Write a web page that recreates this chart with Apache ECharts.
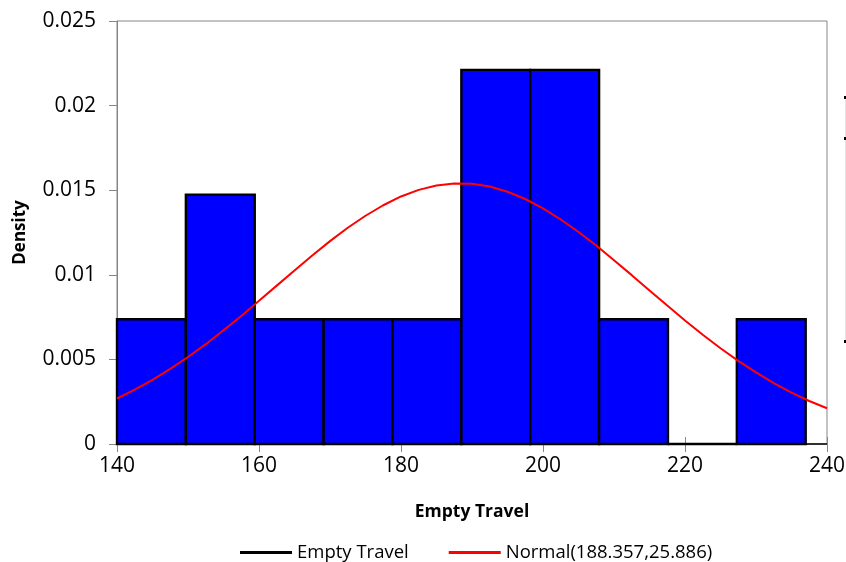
<!DOCTYPE html>
<html>
<head>
<meta charset="utf-8">
<script src="https://cdn.jsdelivr.net/npm/echarts@6/dist/echarts.min.js"></script>
<style>
html,body{margin:0;padding:0;background:#fff;}
#chart{width:846px;height:562px;}
</style>
</head>
<body>
<div id="chart"></div>
<script>
// Histogram bins (lower edge, upper edge) and density
var binStart = [140.0, 149.7, 159.4, 169.1, 178.8, 188.5, 198.2, 207.9, 217.6, 227.3];
var binEnd   = [149.7, 159.4, 169.1, 178.8, 188.5, 198.2, 207.9, 217.6, 227.3, 237.0];
var density  = [0.00737, 0.01474, 0.00737, 0.00737, 0.00737, 0.02211, 0.02211, 0.00737, 0, 0.00737];

// Normal curve points
var curveX = [140, 142.5, 145, 147.5, 150, 152.5, 155, 157.5, 160, 162.5, 165, 167.5, 170, 172.5, 175, 177.5, 180, 182.5, 185, 187.5, 190,
              192.5, 195, 197.5, 200, 202.5, 205, 207.5, 210, 212.5, 215, 217.5, 220, 222.5, 225, 227.5, 230, 232.5, 235, 237.5, 240];
var curveY = [0.00269, 0.00321, 0.00379, 0.00444, 0.00514, 0.00590, 0.00672, 0.00757, 0.00846, 0.00936, 0.01026, 0.01114, 0.01199, 0.01278, 0.01349, 0.01411, 0.01463, 0.01502, 0.01528, 0.01540, 0.01538,
              0.01522, 0.01491, 0.01448, 0.01393, 0.01327, 0.01253, 0.01173, 0.01086, 0.00998, 0.00907, 0.00818, 0.00730, 0.00646, 0.00566, 0.00491, 0.00423, 0.00360, 0.00304, 0.00254, 0.00211];

var xTicks = [140, 160, 180, 200, 220, 240];
var yTicks = [0, 0.005, 0.01, 0.015, 0.02, 0.025];

var histName = 'Empty Travel';
var curveName = 'Normal(188.357,25.886)';

var histData = binStart.map(function (s, i) { return [s, binEnd[i], density[i]]; });
var curveData = curveX.map(function (x, i) { return [x, curveY[i]]; });

var FONT = 'Open Sans';
var chart = echarts.init(document.getElementById('chart'));
chart.setOption({
  animation: false,
  backgroundColor: '#fff',
  grid: {
    left: 117, right: 19, top: 21, bottom: 118,
    containLabel: false, outerBoundsMode: 'none',
    show: true, borderColor: '#868686', borderWidth: 1, backgroundColor: 'transparent'
  },
  legend: {
    left: 235, top: 538,
    itemWidth: 52, itemHeight: 3, itemGap: 40,
    textStyle: { fontFamily: FONT, fontSize: 18.5, color: '#000' },
    data: [
      { name: histName, icon: 'rect', itemStyle: { color: '#000', borderWidth: 0 } },
      { name: curveName, icon: 'rect', itemStyle: { color: '#ff0000', borderWidth: 0 } }
    ]
  },
  xAxis: [{
    type: 'value', min: 140, max: 240, interval: 20, position: 'bottom',
    name: 'Empty Travel', nameLocation: 'middle', nameGap: 59,
    nameTextStyle: { fontFamily: FONT, fontSize: 17.5, fontWeight: 'bold', color: '#000' },
    axisLine: { show: true, onZero: false, lineStyle: { color: '#000', width: 1.5 } },
    axisTick: { show: true, inside: false, length: 8, lineStyle: { color: '#868686' } },
    axisLabel: { fontFamily: FONT, fontSize: 21, color: '#000', margin: 12,
      formatter: function (v) { return xTicks.indexOf(v) >= 0 ? String(v) : ''; } },
    splitLine: { show: false }
  }, {
    type: 'value', min: 140, max: 240, interval: 20, position: 'bottom',
    axisLine: { show: false },
    axisTick: { show: true, inside: true, length: 7, lineStyle: { color: '#868686' } },
    axisLabel: { show: false },
    splitLine: { show: false }
  }],
  yAxis: {
    type: 'value', min: 0, max: 0.025, interval: 0.005,
    name: 'Density', nameLocation: 'middle', nameGap: 88,
    nameTextStyle: { fontFamily: FONT, fontSize: 17, fontWeight: 'bold', color: '#000' },
    axisLine: { show: true, lineStyle: { color: '#868686', width: 1 } },
    axisTick: { show: true, inside: false, length: 8, lineStyle: { color: '#868686' } },
    axisLabel: { fontFamily: FONT, fontSize: 21, color: '#000', margin: 21,
      formatter: function (v) { var s = yTicks.find(function (t) { return Math.abs(t - v) < 1e-9; }); return s === undefined ? '' : String(s); } },
    splitLine: { show: false }
  },
  series: [{
    name: histName,
    type: 'custom',
    xAxisIndex: 0,
    encode: { x: [0, 1], y: 2 },
    data: histData,
    renderItem: function (params, api) {
      var p0 = api.coord([api.value(0), api.value(2)]);
      var p1 = api.coord([api.value(1), 0]);
      return {
        type: 'rect',
        shape: { x: p0[0], y: p0[1], width: p1[0] - p0[0], height: p1[1] - p0[1] },
        style: { fill: '#0000ff', stroke: '#000', lineWidth: 2.4 }
      };
    },
    itemStyle: { color: '#000' },
    z: 2
  }, {
    name: curveName,
    type: 'line',
    xAxisIndex: 0,
    data: curveData,
    smooth: false,
    showSymbol: false,
    symbol: 'none',
    lineStyle: { color: '#ff0000', width: 2 },
    itemStyle: { color: '#ff0000' },
    z: 3
  }],
  graphic: [
    { type: 'line', shape: { x1: 845.5, y1: 97, x2: 845.5, y2: 342 }, style: { stroke: '#e4e4e4', lineWidth: 1 } },
    { type: 'rect', shape: { x: 844, y: 96, width: 2, height: 3 }, style: { fill: '#000' } },
    { type: 'rect', shape: { x: 844, y: 137, width: 2, height: 3 }, style: { fill: '#000' } },
    { type: 'rect', shape: { x: 844, y: 340, width: 2, height: 3 }, style: { fill: '#000' } }
  ]
});
</script>
</body>
</html>
